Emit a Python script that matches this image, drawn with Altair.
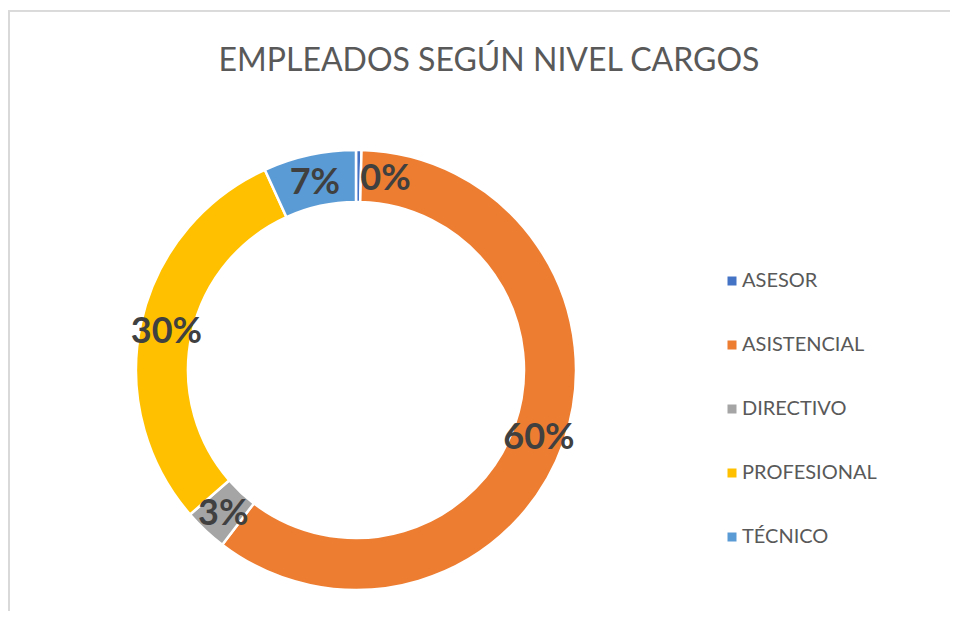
import altair as alt
import pandas as pd

categories = ["ASESOR", "ASISTENCIAL", "DIRECTIVO", "PROFESIONAL", "TÉCNICO"]
values = [1, 150, 8, 74, 17]
colors = ["#4472C4", "#ED7D31", "#A5A5A5", "#FFC000", "#5B9BD5"]
title_text = "EMPLEADOS SEGÚN NIVEL CARGOS"

df = pd.DataFrame({"cat": categories, "val": values, "ord": list(range(len(categories)))})
total = sum(values)

CX, CY = 348, 282
R_OUT, R_IN, R_TXT = 220, 168, 194

base = alt.Chart(df).transform_window(
    cum="sum(val)", sort=[alt.SortField("ord")]
).transform_calculate(
    start="datum.cum - datum.val",
    mid="datum.cum - datum.val / 2",
    pct="round(datum.val / %d * 100) + '%%'" % total,
)

theta_scale = alt.Scale(domain=[0, total], range=[0, 6.283185307179586])

arcs = base.mark_arc(
    innerRadius=R_IN, outerRadius=R_OUT, stroke="white", strokeWidth=2.5
).encode(
    theta=alt.Theta("start:Q", scale=theta_scale, stack=None),
    theta2="cum:Q",
    color=alt.Color(
        "cat:N",
        scale=alt.Scale(domain=categories, range=colors),
        legend=alt.Legend(
            title=None, orient="none", legendX=714, legendY=183,
            symbolType="square", symbolSize=81, symbolStrokeWidth=0,
            labelFont="Lato", labelFontSize=20, labelColor="#595959",
            rowPadding=44, labelOffset=0, padding=0,
        ),
    ),
    x=alt.value(CX),
    y=alt.value(CY),
)

lbl_style = dict(font="Lato", fontSize=36, fontWeight="bold", color="#404040",
                 radius=R_TXT, align="center", baseline="middle", dy=3)

labels = base.transform_filter("datum.cat != 'ASESOR'").mark_text(**lbl_style).encode(
    theta=alt.Theta("mid:Q", scale=theta_scale, stack=None),
    text="pct:N",
    x=alt.value(CX),
    y=alt.value(CY),
)

label0 = base.transform_filter("datum.cat == 'ASESOR'").mark_text(dx=27, **lbl_style).encode(
    theta=alt.Theta("mid:Q", scale=theta_scale, stack=None),
    text="pct:N",
    x=alt.value(CX),
    y=alt.value(CY),
)

frame_top = alt.Chart(df).mark_rule(color="#d9d9d9", strokeWidth=1).encode(
    x=alt.value(0), x2=alt.value(942), y=alt.value(-77)
)
frame_left = alt.Chart(df).mark_rule(color="#d9d9d9", strokeWidth=1.5).encode(
    x=alt.value(1), y=alt.value(-77), y2=alt.value(523)
)

chart = alt.layer(frame_top, frame_left, arcs, labels, label0).properties(
    width=942, height=523,
    padding={"left": 0, "top": 80, "right": 0, "bottom": 0},
    autosize=alt.AutoSizeParams(type="none"),
    title=alt.TitleParams(
        title_text, font="Lato", fontSize=32, fontWeight="normal", color="#595959",
        anchor="middle", baseline="alphabetic", offset=20, dx=10, dy=113,
    ),
).configure_view(stroke=None)

chart.save("out.html", embed_options={"renderer": "svg", "actions": False})
